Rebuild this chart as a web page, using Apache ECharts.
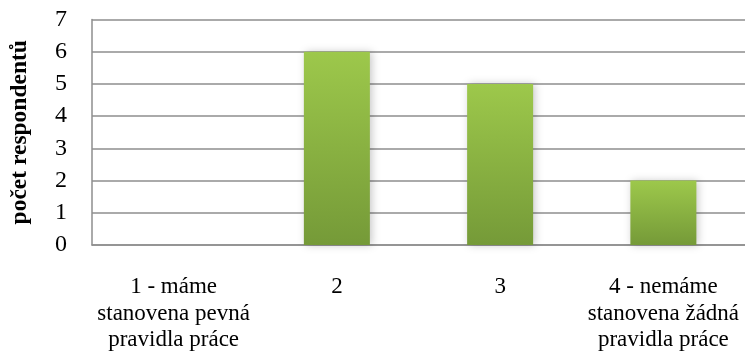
<!DOCTYPE html>
<html>
<head>
<meta charset="utf-8">
<script src="https://cdn.jsdelivr.net/npm/echarts@6/dist/echarts.min.js"></script>
<style>
html,body{margin:0;padding:0;background:#fff;}
#chart{width:745px;height:354px;}
</style>
</head>
<body>
<div id="chart"></div>
<script>
const categories = [
  "1 - máme\nstanovena pevná\npravidla práce",
  "2",
  "3",
  "4 - nemáme\nstanovena žádná\npravidla práce"
];
const values = [0, 6, 5, 2];
const yTicks = [0, 1, 2, 3, 4, 5, 6, 7];
const yTitle = "počet respondentů";

const font = "'Liberation Serif', 'Times New Roman', serif";
const chart = echarts.init(document.getElementById('chart'), null, {renderer: 'canvas'});
chart.setOption({
  animation: false,
  backgroundColor: '#ffffff',
  grid: {left: 91, right: 0, top: 19.5, bottom: 109, containLabel: false},
  xAxis: {
    type: 'category',
    data: categories,
    axisLine: {show: true, lineStyle: {color: '#8e8e8e', width: 1.5}},
    axisTick: {show: false},
    axisLabel: {
      interval: 0,
      margin: 29,
      color: '#000',
      fontFamily: font,
      fontSize: 23,
      lineHeight: 26.5,
      align: 'center'
    }
  },
  yAxis: {
    type: 'value',
    min: yTicks[0],
    max: yTicks[yTicks.length - 1],
    interval: 1,
    name: yTitle,
    nameLocation: 'middle',
    nameGap: 60,
    nameRotate: 90,
    nameTextStyle: {fontFamily: font, fontSize: 23.5, fontWeight: 'bold', color: '#000'},
    axisLine: {show: true, lineStyle: {color: '#8e8e8e', width: 1.5}},
    axisTick: {show: false},
    axisLabel: {margin: 25, color: '#000', fontFamily: font, fontSize: 24},
    splitLine: {show: true, lineStyle: {color: '#8e8e8e', width: 1.5}}
  },
  series: [{
    type: 'bar',
    data: values,
    barWidth: 66,
    itemStyle: {
      color: new echarts.graphic.LinearGradient(0, 0, 0, 1, [
        {offset: 0, color: '#9dc84b'},
        {offset: 1, color: '#759a38'}
      ]),
      shadowBlur: 8,
      shadowColor: 'rgba(0,0,0,0.22)',
      shadowOffsetX: 2
    }
  }]
});
</script>
</body>
</html>
